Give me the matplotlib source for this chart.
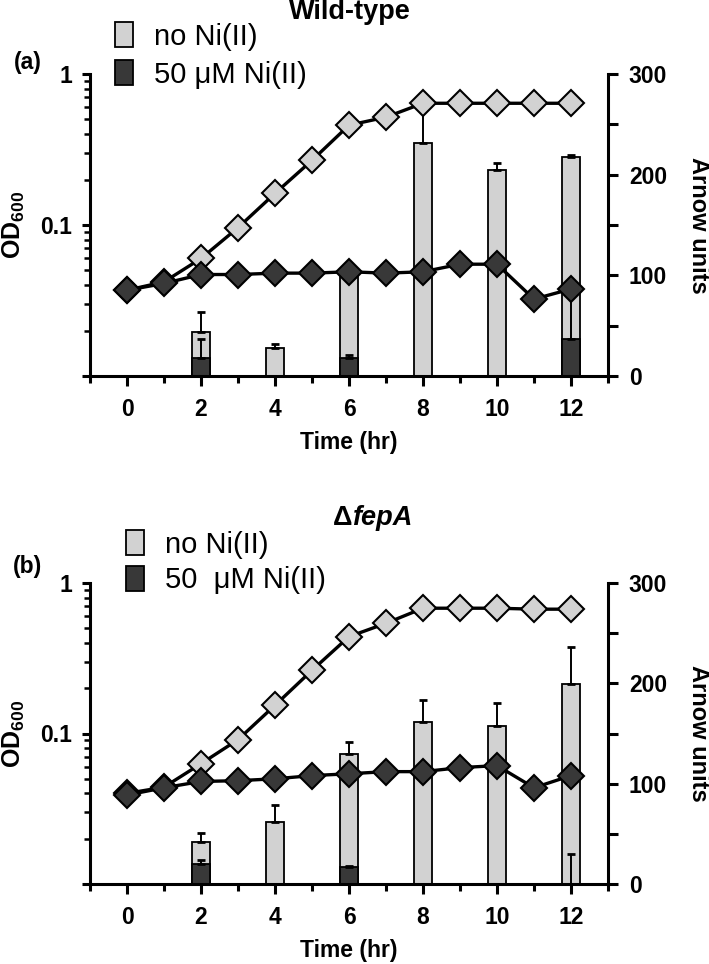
import matplotlib
matplotlib.use("Agg")
import matplotlib.pyplot as plt
from matplotlib.ticker import FixedLocator, NullFormatter, LogLocator

plt.rcParams['font.family'] = ['Liberation Sans', 'DejaVu Sans']
plt.rcParams['mathtext.fontset'] = 'custom'
plt.rcParams['mathtext.rm'] = 'Liberation Sans'
plt.rcParams['mathtext.bf'] = 'Liberation Sans:bold'
plt.rcParams['mathtext.it'] = 'Liberation Sans:italic'

# time points (hr)
time = list(range(13))
bar_time = [2, 4, 6, 8, 10, 12]

# panel (a) wild-type, OD600
od_wt_noni = [0.037, 0.042, 0.060, 0.096, 0.162, 0.268, 0.458, 0.518, 0.64, 0.64, 0.64, 0.64, 0.64]
od_wt_ni = [0.037, 0.041, 0.047, 0.047, 0.048, 0.048, 0.049, 0.048, 0.049, 0.055, 0.055, 0.0323, 0.0377]
# panel (a) Arnow units
arnow_wt_noni = [44, 28, 100, 231, 205, 218]
err_wt_noni = [20, 4, 5, 40, 7, 2]
arnow_wt_ni = [18, 0, 18, 0, 0, 37]
err_wt_ni = [19, 0, 3, 0, 0, 45]

# panel (b) fepA mutant, OD600
od_fep_noni = [0.040, 0.044, 0.063, 0.091, 0.154, 0.263, 0.44, 0.54, 0.68, 0.68, 0.68, 0.67, 0.67]
od_fep_ni = [0.039, 0.0436, 0.048, 0.0486, 0.050, 0.0525, 0.054, 0.0558, 0.0558, 0.0593, 0.0612, 0.0436, 0.0525]
# panel (b) Arnow units
arnow_fep_noni = [42, 62, 130, 161, 157, 199]
err_fep_noni = [9, 17, 12, 22, 23, 37]
arnow_fep_ni = [20, 0, 17, 0, 0, 0]
err_fep_ni = [4, 0, 1, 0, 0, 30]

light = "#d2d2d2"
dark = "#383838"

W, H = 709, 964
fig = plt.figure(figsize=(W / 100, H / 100), dpi=100)


def px(x, y):
    return x / W, 1 - y / H


def panel(top, bottom, od1, od2, ar1, e1, ar2, e2):
    l, b = px(90, bottom)
    ax = fig.add_axes([l, b, (608 - 90) / W, (bottom - top) / H])
    ax2 = ax.twinx()

    # bars on the right (Arnow) axis
    b1 = ax2.bar(bar_time, ar1, width=0.5, color=light, edgecolor="black", linewidth=1.3, zorder=1)
    t1 = [t for t, e in zip(bar_time, e1) if e > 0]
    ax2.errorbar(t1, [v for v, e in zip(ar1, e1) if e > 0], yerr=[[0] * len(t1), [e for e in e1 if e > 0]],
                 fmt="none", ecolor="black", elinewidth=1.4, capsize=3, capthick=2, zorder=2)
    b2 = ax2.bar(bar_time, ar2, width=0.5, color=dark, edgecolor="black", linewidth=1.3, zorder=3)
    t2 = [t for t, e in zip(bar_time, e2) if e > 0]
    ax2.errorbar(t2, [v for v, e in zip(ar2, e2) if e > 0], yerr=[[0] * len(t2), [e for e in e2 if e > 0]],
                 fmt="none", ecolor="black", elinewidth=1.4, capsize=3, capthick=2, zorder=4)
    ax2.set_ylim(0, 300)
    ax2.set_yticks([0, 100, 200, 300])
    ax2.yaxis.set_minor_locator(FixedLocator([50, 150, 250]))

    # growth curves on the log OD axis, drawn above the bars
    ax.set_zorder(ax2.get_zorder() + 1)
    ax.patch.set_visible(False)
    ax.plot(time, od1, color="black", lw=2.4, marker="D", ms=13.5, mfc=light, mec="black", mew=1.5, zorder=5)
    ax.plot(time, od2, color="black", lw=2.4, marker="D", ms=13.5, mfc=dark, mec="black", mew=1.5, zorder=6)
    ax.set_yscale("log")
    ax.set_ylim(0.01, 1)
    ax.set_xlim(-1, 13)
    ax.yaxis.set_major_locator(FixedLocator([0.01, 0.1, 1]))
    ax.set_yticklabels(["", "0.1", "1"])
    ax.yaxis.set_minor_locator(LogLocator(base=10, subs=range(2, 10)))
    ax.yaxis.set_minor_formatter(NullFormatter())
    ax.set_xticks([0, 2, 4, 6, 8, 10, 12])
    ax.xaxis.set_minor_locator(FixedLocator([-1, 1, 3, 5, 7, 9, 11, 13]))

    for a in (ax, ax2):
        for s in a.spines.values():
            s.set_linewidth(2.2)
        a.spines["top"].set_visible(False)
    ax.spines["right"].set_visible(False)
    ax2.spines["left"].set_visible(False)
    ax2.spines["bottom"].set_visible(False)

    ax.tick_params(axis="x", which="major", length=7, width=2.2, pad=9, labelsize=16.5)
    ax.tick_params(axis="x", which="minor", length=5, width=2.2)
    ax.tick_params(axis="y", which="major", length=6, width=2.2, pad=7, labelsize=16.5)
    ax.tick_params(axis="y", which="minor", length=4, width=1.8)
    ax2.tick_params(axis="y", which="major", length=7, width=2.2, pad=8, labelsize=16.5)
    ax2.tick_params(axis="y", which="minor", length=7, width=2.2)
    for lab in ax.get_xticklabels() + ax.get_yticklabels() + ax2.get_yticklabels():
        lab.set_fontweight("bold")
    return ax, b1, b2


def labels(top, bottom, tag, tag_y):
    mid = (top + bottom) / 2
    fig.text(*px(14, mid), r"$\mathbf{OD_{600}}$", rotation=90, ha="center", va="center", fontsize=18)
    fig.text(*px(698, mid), "Arnow units", rotation=270, ha="center", va="center",
             fontsize=17, fontweight="bold")
    fig.text(*px(349, bottom + 67), "Time (hr)", ha="center", va="center", fontsize=16.5, fontweight="bold")
    fig.text(*px(28, tag_y), tag, ha="center", va="center", fontsize=16.5, fontweight="bold")


def legend(h1, h2, lab2, x, y, spacing):
    fig.legend([h1, h2], ["no Ni(II)", lab2], loc="upper left", bbox_to_anchor=px(x, y),
               frameon=False, fontsize=21, handlelength=0.6, handleheight=0.95, handletextpad=0.75,
               labelspacing=spacing, borderpad=0, borderaxespad=0)


# panel (a)
ax_a, a1, a2 = panel(74, 376, od_wt_noni, od_wt_ni, arnow_wt_noni, err_wt_noni, arnow_wt_ni, err_wt_ni)
labels(74, 376, "(a)", 62)
fig.text(*px(350, 12), "Wild-type", ha="center", va="center", fontsize=19.5, fontweight="bold")
legend(a1, a2, "50 \u03bcM Ni(II)", 115, 22, 0.32)

# panel (b)
ax_b, c1, c2 = panel(583, 884, od_fep_noni, od_fep_ni, arnow_fep_noni, err_fep_noni, arnow_fep_ni, err_fep_ni)
labels(583, 884, "(b)", 567)
fig.text(*px(352, 518), "\u0394", ha="right", va="center", fontsize=19.5, fontweight="bold")
fig.text(*px(352, 518), "fepA", ha="left", va="center", fontsize=19.5, fontweight="bold", style="italic")
legend(c1, c2, "50  \u03bcM Ni(II)", 126, 530, 0.24)

fig.savefig("out.png", dpi=100)
